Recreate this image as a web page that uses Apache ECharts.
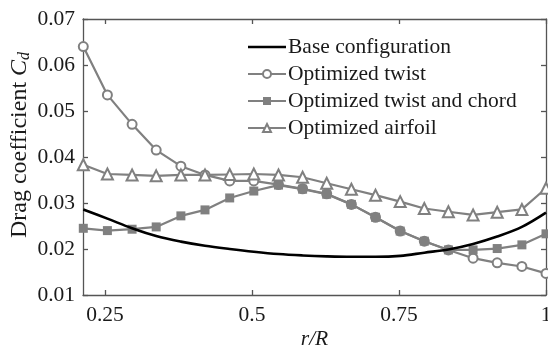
<!DOCTYPE html>
<html>
<head>
<meta charset="utf-8">
<script src="https://cdn.jsdelivr.net/npm/echarts@6/dist/echarts.min.js"></script>
<style>html,body{margin:0;padding:0;background:#fff;}#c{width:548px;height:350px;}</style>
</head>
<body>
<div id="c"></div>
<script>
const rR = [0.213, 0.254, 0.296, 0.337, 0.379, 0.420, 0.462, 0.503, 0.545, 0.586,
            0.627, 0.669, 0.710, 0.752, 0.793, 0.834, 0.876, 0.917, 0.959, 1.000];
const baseCd = [0.0286, 0.0266, 0.0245, 0.0228, 0.0216, 0.0207, 0.0200, 0.0194, 0.0189, 0.0186,
                0.0184, 0.0183, 0.0183, 0.0185, 0.0192, 0.0199, 0.0211, 0.0227, 0.0248, 0.0279];
const twistCd = [0.0640, 0.0535, 0.0471, 0.0415, 0.0380, 0.0361, 0.0348, 0.0348, 0.0340, 0.0331,
                 0.0320, 0.0297, 0.0269, 0.0239, 0.0217, 0.0198, 0.0180, 0.0170, 0.0162, 0.0147];
const twistChordCd = [0.0245, 0.0240, 0.0243, 0.0248, 0.0272, 0.0285, 0.0311, 0.0326, 0.0339, 0.0330,
                      0.0319, 0.0297, 0.0269, 0.0239, 0.0217, 0.0198, 0.0198, 0.0201, 0.0209, 0.0233];
const airfoilCd = [0.0383, 0.0363, 0.0361, 0.0359, 0.0361, 0.0361, 0.0362, 0.0363, 0.0361, 0.0356,
                   0.0343, 0.0330, 0.0317, 0.0303, 0.0288, 0.0281, 0.0274, 0.0280, 0.0286, 0.0332];
const xTicks = [0.25, 0.5, 0.75, 1];
const xTickLabels = ['0.25', '0.5', '0.75', '1'];
const yTicks = [0.01, 0.02, 0.03, 0.04, 0.05, 0.06, 0.07];
const seriesNames = ['Base configuration', 'Optimized twist', 'Optimized twist and chord', 'Optimized airfoil'];

const FONT = 'Liberation Serif';
const FS = 21.5;
const YFS = 24;
const GRAY = '#808080';
const AX = '#555';
const TXT = '#1a1a1a';
const zip = (xs, ys) => xs.map((x, i) => [x, ys[i]]);

const chart = echarts.init(document.getElementById('c'), null, {renderer: 'canvas'});
const axisCommon = {
  axisLine: {show: true, lineStyle: {color: AX, width: 1.3}},
  axisTick: {show: true, inside: true, length: 5, lineStyle: {color: AX, width: 1.3}},
  splitLine: {show: false}
};
chart.setOption({
  animation: false,
  backgroundColor: '#fff',
  grid: {left: 83, right: 2, top: 19, bottom: 55, containLabel: false, outerBoundsMode: 'none'},
  xAxis: [{
    type: 'value', min: 0.2125, max: 1, position: 'bottom',
    ...axisCommon,
    axisTick: {...axisCommon.axisTick, customValues: xTicks},
    axisLabel: {customValues: xTicks, color: TXT, fontFamily: FONT, fontSize: FS, margin: 9,
      formatter: v => { const i = xTicks.indexOf(v); return i >= 0 ? xTickLabels[i] : String(v); }},
    name: 'r/R', nameLocation: 'middle', nameGap: 33, nameMoveOverlap: false,
    nameTextStyle: {color: TXT, fontFamily: FONT, fontSize: FS, fontStyle: 'italic'}
  }, {
    type: 'value', min: 0.2125, max: 1, position: 'top',
    ...axisCommon,
    axisTick: {...axisCommon.axisTick, customValues: xTicks},
    axisLabel: {show: false}
  }],
  yAxis: [{
    type: 'value', min: 0.01, max: 0.07, interval: 0.01, position: 'left',
    ...axisCommon,
    axisLabel: {color: TXT, fontFamily: FONT, fontSize: FS, margin: 8,
      formatter: v => { const t = yTicks.find(y => Math.abs(y - v) < 1e-9); return (t !== undefined ? t : v).toFixed(2); }},
    name: '{a|Drag coefficient }{c|C}{s|d}', nameLocation: 'middle', nameGap: 50, nameMoveOverlap: false,
    nameTextStyle: {
      color: TXT, fontFamily: FONT, fontSize: YFS, padding: [0, 0, 0, 24],
      rich: {
        a: {fontFamily: FONT, fontSize: YFS, color: TXT},
        c: {fontFamily: FONT, fontSize: YFS, fontStyle: 'italic', color: TXT},
        s: {fontFamily: FONT, fontSize: 16, fontStyle: 'italic', color: TXT, padding: [11, 0, 0, 0]}
      }
    }
  }, {
    type: 'value', min: 0.01, max: 0.07, interval: 0.01, position: 'right',
    ...axisCommon,
    axisLabel: {show: false}
  }],
  legend: {
    data: [
      {name: seriesNames[0], icon: 'path://M0,0 L38,0 L38,2.6 L0,2.6 Z'},
      {name: seriesNames[1]},
      {name: seriesNames[2]},
      {name: seriesNames[3]}
    ],
    orient: 'vertical', left: 242, top: 31,
    itemWidth: 38, itemHeight: 10, itemGap: 5,
    textStyle: {fontFamily: FONT, fontSize: FS, color: TXT, padding: [0, 0, 0, -3]},
    backgroundColor: 'transparent'
  },
  series: [
    {name: seriesNames[0], type: 'line', data: zip(rR, baseCd), smooth: 0.35, symbol: 'none',
      lineStyle: {color: '#000', width: 2.6}, itemStyle: {color: '#000'}, z: 5},
    {name: seriesNames[1], type: 'line', data: zip(rR, twistCd), symbol: 'emptyCircle', symbolSize: 9,
      lineStyle: {color: GRAY, width: 2.2}, itemStyle: {color: GRAY, borderColor: GRAY, borderWidth: 2}, z: 2},
    {name: seriesNames[2], type: 'line', data: zip(rR, twistChordCd), symbol: 'rect', symbolSize: 9,
      lineStyle: {color: GRAY, width: 2.2}, itemStyle: {color: GRAY}, z: 3},
    {name: seriesNames[3], type: 'line', data: zip(rR, airfoilCd), symbol: 'emptyTriangle', symbolSize: 11,
      lineStyle: {color: GRAY, width: 2.2}, itemStyle: {color: GRAY, borderColor: GRAY, borderWidth: 2}, z: 2}
  ]
});
</script>
</body>
</html>
